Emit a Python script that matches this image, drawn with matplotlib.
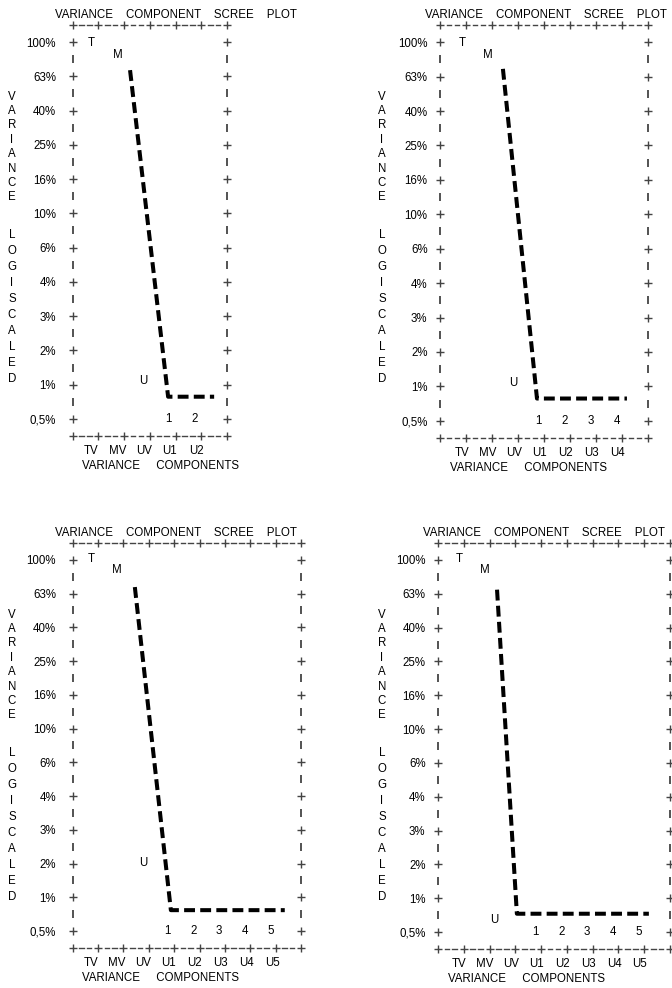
import numpy as np
import matplotlib.pyplot as plt
from matplotlib.ticker import NullLocator

plt.rcParams['font.family'] = ['Liberation Sans', 'DejaVu Sans']
plt.rcParams['font.size'] = 8.3

W, H = 672, 988

# y axis rows (evenly spaced on a log scale, labels as printed)
tick_labels = ['100%', '63%', '40%', '25%', '16%', '10%', '6%', '4%', '3%', '2%', '1%', '0,5%']
categories = ['TV', 'MV', 'UV', 'U1', 'U2', 'U3', 'U4', 'U5']

# one entry per panel: top-left, top-right, bottom-left, bottom-right
n_components = [2, 4, 5, 5]
t_value = [99, 99, 101, 101]
m_value = [84, 84, 87, 87]
u_value = [1.05, 1.05, 1.6, 0.74]
u_x = [2.74, 2.81, 2.77, 2.17]
line_x = [[2.23, 3.71, 5.5], [2.42, 3.73, 7.19], [2.45, 3.87, 8.36], [2.29, 3.06, 8.18]]
line_y = [[68.6, 0.85, 0.85], [70.0, 0.85, 0.85], [69.0, 0.84, 0.84], [66.7, 0.81, 0.81]]

# panel frames in pixels: left, right, top, bottom
boxes = [(72.7, 227, 25, 436), (440, 648, 25, 438), (72.7, 301, 543, 948), (438, 670, 543, 949)]
label_off = [0.72, 0.84, 0.72, 0.83]
label_step = [1.02, 1.0, 1.02, 1.0]

tick_vals = 10 ** (2 - 0.2 * np.arange(len(tick_labels)))
minor_vals = 10 ** (2 - 0.2 * np.arange(len(tick_labels) - 1) - 0.1)
ylo, yhi = 10 ** (2 - 0.2 * 11.5), 10 ** 2.1

fig = plt.figure(figsize=(W / 100, H / 100), dpi=100)
border = '#444444'

for p in range(4):
    l, r, t, b = boxes[p]
    ax = fig.add_axes([l / W, 1 - b / H, (r - l) / W, (b - t) / H])
    ax.patch.set_visible(False)
    for s in ax.spines.values():
        s.set_visible(False)
    n = 3 + n_components[p]
    N = n + 1
    ax.set_xlim(0, N)
    ax.set_yscale('log')
    ax.set_ylim(ylo, yhi)
    ax.yaxis.set_minor_locator(NullLocator())
    ax.set_yticks(tick_vals, tick_labels)
    pad = 12 if p in (0, 2) else 9
    ax.tick_params(axis='y', length=0, pad=pad)
    pos = label_off[p] + label_step[p] * np.arange(n)
    ax.set_xticks(pos, categories[:n])
    ax.tick_params(axis='x', length=0, pad=6.5)

    # dashed top / bottom border with plus marks
    xs = []
    for k in range(N):
        xs += [k + 0.26, k + 0.44, np.nan, k + 0.56, k + 0.74, np.nan]
    for yb in (ylo, yhi):
        ax.plot(xs, [yb] * len(xs), color=border, lw=1.0, clip_on=False)
        ax.plot(np.arange(N + 1), [yb] * (N + 1), '+', color=border, ms=5.5, mew=1.0, clip_on=False)
    # side borders: plus at labelled rows, bar between
    for xb in (0, N):
        ax.plot([xb] * len(tick_vals), tick_vals, '+', color=border, ms=5.5, mew=1.0, clip_on=False)
        ax.plot([xb] * len(minor_vals), minor_vals, '|', color=border, ms=5.5, mew=1.3, clip_on=False)

    # point letters
    ax.text(pos[0], t_value[p], 'T', ha='center', va='center')
    ax.text(pos[1], m_value[p], 'M', ha='center', va='center')
    ax.text(u_x[p], u_value[p], 'U', ha='center', va='center')
    for i in range(n_components[p]):
        ax.text(pos[3 + i] - 0.05, tick_vals[-1], str(i + 1), ha='center', va='center')

    # scree line
    ax.plot(line_x[p], line_y[p], color='black', lw=2.9, dashes=(2.7, 1.3),
            solid_joinstyle='round', clip_on=False)

    # titles and axis words
    tx = l - 17.7 if p in (0, 2) else l - 15
    fig.text(tx / W, 1 - (t - 10) / H, 'VARIANCE    COMPONENT    SCREE    PLOT', ha='left', va='center')
    fig.text((l + 9.5) / W, 1 - (b + 30) / H, 'VARIANCE     COMPONENTS', ha='left', va='center')
    vx = 12 if p in (0, 2) else 382
    fig.text(vx / W, 1 - (t + 122) / H, '\n'.join('VARIANCE'), ha='center', va='center',
             linespacing=1.26, ma='center')
    fig.text(vx / W, 1 - (t + 282) / H, '\n'.join('LOGISCALED'), ha='center', va='center',
             linespacing=1.44, ma='center')

fig.savefig('out.png', dpi=100)
